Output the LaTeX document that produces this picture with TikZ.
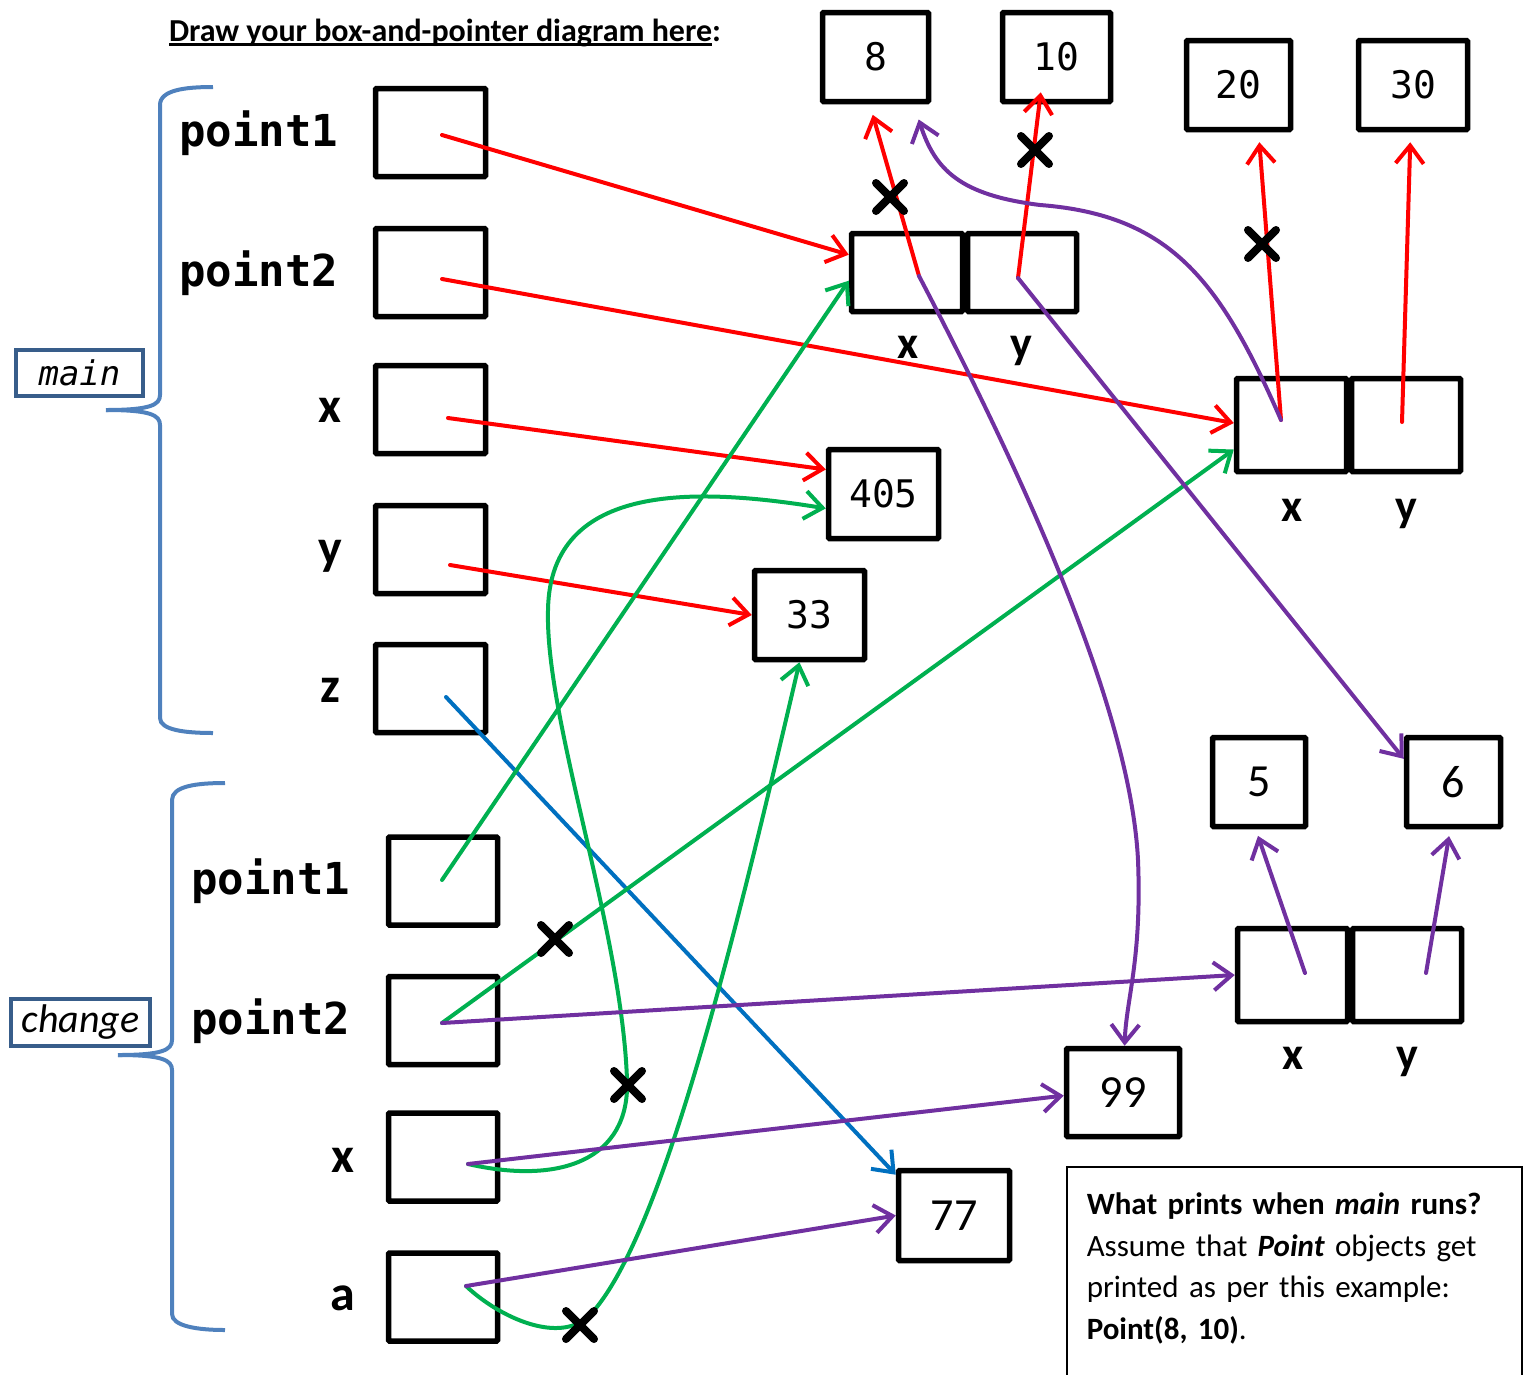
\documentclass[tikz,border=0pt]{standalone}
\usepackage{fontspec}
\setmainfont{Carlito}
\newfontfamily\codefont{DejaVu Sans Mono}
\usetikzlibrary{arrows.meta}

\definecolor{ptrred}{HTML}{FF0000}
\definecolor{ptrgreen}{HTML}{00B050}
\definecolor{ptrpurple}{HTML}{7030A0}
\definecolor{ptrblue}{HTML}{0070C0}
\definecolor{bracecol}{HTML}{4F81BD}
\definecolor{framecol}{HTML}{385D8A}

\newcommand\varfont{\codefont\bfseries\fontsize{44}{52}\selectfont}
\newcommand\letterfont{\bfseries\fontsize{50}{60}\selectfont}
\newcommand\fieldfont{\bfseries\fontsize{46}{55}\selectfont}
\newcommand\monofont{\codefont\fontsize{38}{46}\selectfont}
\newcommand\numfont{\fontsize{46}{54}\selectfont}
\newcommand\thickul[1]{\setbox0\hbox{#1}\rlap{\rule[-4pt]{\wd0}{2.5pt}}\box0}

\tikzset{every picture/.style={line width=4pt}}
\tikzset{
  cell/.style={draw, line width=5.5pt, rounded corners=1pt, inner sep=0pt},
  ptr/.style={line width=4pt, line cap=round, -{Straight Barb[length=18pt,width=28pt]}},
  xmark/.style={line width=8pt, line cap=round},
  brace/.style={draw=bracecol, line width=4pt},
  framebox/.style={draw=framecol, line width=4pt, inner sep=0pt}
}

\begin{document}
\begin{tikzpicture}[x=1pt,y=1pt,yscale=-1,xscale=1]
\useasboundingbox (0,0) rectangle (1525,1374);

% Title
\node (title) at (445,33) {\bfseries\fontsize{32}{38}\selectfont\thickul{Draw your box-and-pointer diagram here}:};

% Braces
\draw[brace] (213,87) .. controls (185,87) and (160,90) .. (160,105) -- (160,395) .. controls (160,405) and (150,410) .. (106,410);
\draw[brace] (106,410) .. controls (150,410) and (160,415) .. (160,425) -- (160,718) .. controls (160,730) and (185,733) .. (213,733);
\draw[brace] (225,783) .. controls (197,783) and (172,786) .. (172,800) -- (172,1040) .. controls (172,1050) and (162,1055) .. (118,1055);
\draw[brace] (118,1055) .. controls (162,1055) and (172,1060) .. (172,1070) -- (172,1314) .. controls (172,1326) and (197,1330) .. (225,1330);

% Frame labels
\node[framebox, minimum width=127, minimum height=46] (mainlbl) at (79.5,373) {\codefont\itshape\fontsize{34}{40}\selectfont main};
\node[framebox, minimum width=139, minimum height=47] (changelbl) at (80.5,1022.5) {\itshape\fontsize{40}{46}\selectfont change};

% main variables
\node[anchor=east, inner sep=0pt] (lmp1) at (340,133) {\varfont point1};
\node[anchor=east, inner sep=0pt] (lmp2) at (340,273) {\varfont point2};
\node[inner sep=0pt] (lmx) at (330,410) {\letterfont x};
\node[inner sep=0pt] (lmy) at (330,556) {\letterfont y};
\node[inner sep=0pt] (lmz) at (330,690) {\letterfont z};
\node[cell, minimum width=110, minimum height=88] (mp1) at (430.5,132.5) {};
\node[cell, minimum width=110, minimum height=88] (mp2) at (430.5,272.5) {};
\node[cell, minimum width=110, minimum height=88] (mx) at (430.5,409.5) {};
\node[cell, minimum width=110, minimum height=88] (my) at (430.5,549.5) {};
\node[cell, minimum width=110, minimum height=88] (mz) at (430.5,688.5) {};

% change variables
\node[anchor=east, inner sep=0pt] (lcp1) at (352,881) {\varfont point1};
\node[anchor=east, inner sep=0pt] (lcp2) at (352,1021) {\varfont point2};
\node[inner sep=0pt] (lcx) at (343,1160) {\letterfont x};
\node[inner sep=0pt] (lca) at (343,1298) {\letterfont a};
\node[cell, minimum width=109, minimum height=88] (cp1) at (443,881) {};
\node[cell, minimum width=109, minimum height=88] (cp2) at (443,1020.5) {};
\node[cell, minimum width=109, minimum height=88] (cx) at (443,1157) {};
\node[cell, minimum width=109, minimum height=88] (ca) at (443,1297) {};

% values
\node[cell, minimum width=106, minimum height=89, font=\monofont] (v8) at (875.5,57) {8};
\node[cell, minimum width=108, minimum height=89, font=\monofont] (v10) at (1056.5,57) {10};
\node[cell, minimum width=104, minimum height=89, font=\monofont] (v20) at (1238.5,85) {20};
\node[cell, minimum width=109, minimum height=89, font=\monofont] (v30) at (1413,85) {30};
\node[cell, minimum width=110, minimum height=89, font=\monofont] (v405) at (883.5,494) {405};
\node[cell, minimum width=110, minimum height=89, font=\monofont] (v33) at (809.5,615) {33};
\node[cell, minimum width=93, minimum height=89, font=\numfont] (v5) at (1259,782) {5};
\node[cell, minimum width=94, minimum height=89, font=\numfont] (v6) at (1453.5,782) {6};
\node[cell, minimum width=113, minimum height=88, font=\numfont] (v99) at (1123,1092.5) {99};
\node[cell, minimum width=111, minimum height=90, font=\numfont] (v77) at (954,1215.5) {77};

% Point objects
\node[cell, minimum width=111, minimum height=78] (o1x) at (907,272.5) {};
\node[cell, minimum width=109, minimum height=78] (o1y) at (1022,272.5) {};
\node[font=\fieldfont, inner sep=0pt] (lo1x) at (908,347) {x};
\node[font=\fieldfont, inner sep=0pt] (lo1y) at (1021,351) {y};
\node[cell, minimum width=110, minimum height=93] (o2x) at (1291.5,425) {};
\node[cell, minimum width=109, minimum height=93] (o2y) at (1406,425) {};
\node[font=\fieldfont, inner sep=0pt] (lo2x) at (1292,510) {x};
\node[font=\fieldfont, inner sep=0pt] (lo2y) at (1406,514) {y};
\node[cell, minimum width=110, minimum height=93] (o3x) at (1292.5,975) {};
\node[cell, minimum width=109, minimum height=93] (o3y) at (1407,975) {};
\node[font=\fieldfont, inner sep=0pt] (lo3x) at (1293,1058) {x};
\node[font=\fieldfont, inner sep=0pt] (lo3y) at (1407,1062) {y};

% pointer origins
\coordinate (mp1s) at (442,135);
\coordinate (mp2s) at (442,279);
\coordinate (mxs) at (448,418);
\coordinate (mys) at (450,565);
\coordinate (mzs) at (446,697);
\coordinate (cp1s) at (442,880);
\coordinate (cp2s) at (442,1023);
\coordinate (cxs) at (468,1164);
\coordinate (cas) at (466,1286);
\coordinate (o1xs) at (919,276);
\coordinate (o1ys) at (1018,278);
\coordinate (o2xs) at (1281,420);
\coordinate (o2ys) at (1402,422);
\coordinate (o3xs) at (1305,973);
\coordinate (o3ys) at (1426,973);

% red pointers
\draw[ptr, ptrred] (mp1s) -- (o1x.163);
\draw[ptr, ptrred] (mp2s) -- (o2x.178);
\draw[ptr, ptrred] (mxs) -- (v405.157);
\draw[ptr, ptrred] (mys) -- (v33.west);
\draw[ptr, ptrred, shorten >=11pt] (o1xs) -- (v8.263);
\draw[ptr, ptrred, shorten >=-12pt] (o1ys) -- (v10.250);
\draw[ptr, ptrred, shorten >=10pt] (o2xs) -- (v20.293);
\draw[ptr, ptrred, shorten >=10pt] (o2ys) -- (v30.267);

% blue pointer
\draw[ptr, ptrblue] (mzs) -- (v77.145);

% green pointers
\draw[ptr, ptrgreen] (cp1s) -- (o1x.188);
\draw[ptr, ptrgreen] (cp2s) -- (o2x.203);
\draw[ptr, ptrgreen] (cxs) .. controls (560,1185) and (630,1160) .. (627,1080) .. controls (622,930) and (545,720) .. (548,610) .. controls (550,480) and (700,488) .. (v405.194);
\draw[ptr, ptrgreen] (cas) .. controls (500,1318) and (560,1345) .. (590,1315) .. controls (660,1240) and (730,960) .. (v33.258);

% purple pointers
\draw[ptr, ptrpurple] (o1xs) .. controls (1010,450) and (1130,700) .. (1138,860) .. controls (1142,960) and (1126,1000) .. (v99.88);
\draw[ptr, ptrpurple] (o1ys) -- (v6.155);
\draw[ptr, ptrpurple, shorten >=16pt] (o2xs) .. controls (1220,280) and (1170,215) .. (1040,205) .. controls (960,195) and (935,170) .. (v8.309);
\draw[ptr, ptrpurple] (cp2s) -- (o3x.west);
\draw[ptr, ptrpurple] (cxs) -- (v99.183);
\draw[ptr, ptrpurple] (cas) -- (v77.west);
\draw[ptr, ptrpurple, shorten >=7pt] (o3xs) -- (v5.266);
\draw[ptr, ptrpurple, shorten >=7pt] (o3ys) -- (v6.266);

% crossed-out pointers
\foreach \cx/\cy in {890/197, 1035/150, 1262/244, 555/939, 628/1085, 580/1325}
  \draw[xmark] (\cx-14,\cy-14) -- (\cx+14,\cy+14) (\cx-14,\cy+14) -- (\cx+14,\cy-14);

% question box
\node[draw, line width=1.5pt, anchor=north west, minimum width=455, minimum height=240, inner xsep=20pt, inner ysep=26pt, align=left, text width=415, font=\fontsize{31}{41.5}\selectfont] (prints) at (1066,1166) {{\bfseries What prints when \textit{main} runs?}\\Assume that \textbf{\textit{Point}} objects get\\printed as per this example:\\\textbf{Point(8, 10)}.\\[41pt]\mbox{}};

\end{tikzpicture}
\end{document}
